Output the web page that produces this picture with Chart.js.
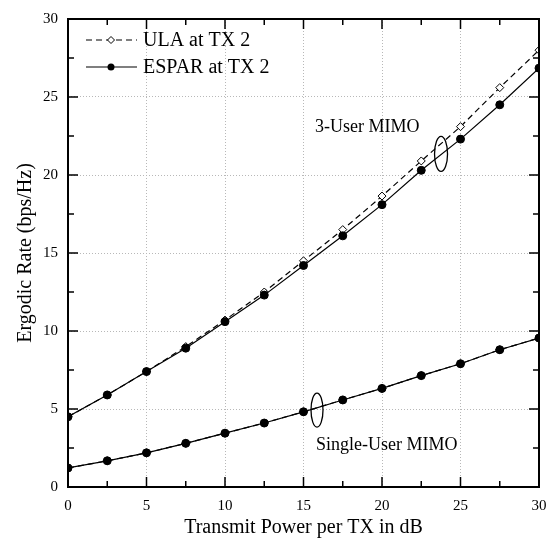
<!DOCTYPE html>
<html><head><meta charset="utf-8">
<script src="https://cdn.jsdelivr.net/npm/chart.js@4/dist/chart.umd.min.js"></script>
<style>html,body{margin:0;padding:0;background:#fff}#wrap{width:559px;height:542px}</style>
</head><body><div id="wrap"><canvas id="c" width="559" height="542"></canvas></div>
<script>
// ---- data ----
const txPower = [0, 2.5, 5, 7.5, 10, 12.5, 15, 17.5, 20, 22.5, 25, 27.5, 30];
const ula3User = [4.5, 5.9, 7.4, 9.0, 10.7, 12.5, 14.5, 16.5, 18.65, 20.9, 23.1, 25.6, 28.0];
const espar3User = [4.5, 5.9, 7.4, 8.9, 10.6, 12.3, 14.2, 16.1, 18.1, 20.3, 22.3, 24.5, 26.85];
const ulaSingleUser = [1.22, 1.68, 2.19, 2.8, 3.45, 4.1, 4.82, 5.58, 6.32, 7.14, 7.9, 8.8, 9.55];
const esparSingleUser = [1.22, 1.68, 2.19, 2.8, 3.45, 4.1, 4.82, 5.58, 6.32, 7.14, 7.9, 8.8, 9.55];
const xTickValues = [0, 2.5, 5, 7.5, 10, 12.5, 15, 17.5, 20, 22.5, 25, 27.5, 30];
const yTickValues = [0, 2.5, 5, 7.5, 10, 12.5, 15, 17.5, 20, 22.5, 25, 27.5, 30];
const legendLabels = ['ULA at TX 2', 'ESPAR at TX 2'];
const groupLabels = ['3-User MIMO', 'Single-User MIMO'];

const FONT = '"Liberation Serif", "Times New Roman", serif';
const pts = arr => txPower.map((x, i) => ({x: x, y: arr[i]}));
const isMajor = v => Math.abs(v % 5) < 1e-9;

const ulaStyle = {
  borderColor: '#000', borderWidth: 1.2, borderDash: [6, 4],
  pointStyle: 'rectRot', pointRadius: 4, pointBackgroundColor: '#fff',
  pointBorderColor: '#000', pointBorderWidth: 1, tension: 0, clip: 0, fill: false
};
const esparStyle = {
  borderColor: '#000', borderWidth: 1.2, borderDash: [],
  pointStyle: 'circle', pointRadius: 4, pointBackgroundColor: '#000',
  pointBorderColor: '#000', pointBorderWidth: 1, tension: 0, clip: 0, fill: false
};

const framePlugin = {
  id: 'frame',
  afterDraw(chart) {
    const ctx = chart.ctx, a = chart.chartArea;
    const xs = chart.scales.x, ys = chart.scales.y;
    ctx.save();
    ctx.strokeStyle = '#000';
    // inward ticks
    ctx.lineWidth = 1.5;
    xTickValues.forEach(v => {
      const p = xs.getPixelForValue(v), L = isMajor(v) ? 10 : 6;
      ctx.beginPath();
      ctx.moveTo(p, a.bottom); ctx.lineTo(p, a.bottom - L);
      ctx.moveTo(p, a.top); ctx.lineTo(p, a.top + L);
      ctx.stroke();
    });
    yTickValues.forEach(v => {
      const p = ys.getPixelForValue(v), L = isMajor(v) ? 10 : 6;
      ctx.beginPath();
      ctx.moveTo(a.left, p); ctx.lineTo(a.left + L, p);
      ctx.moveTo(a.right, p); ctx.lineTo(a.right - L, p);
      ctx.stroke();
    });
    // frame
    ctx.lineWidth = 2;
    ctx.strokeRect(a.left, a.top, a.right - a.left, a.bottom - a.top);

    // ellipses
    ctx.lineWidth = 1.3;
    [{x: 23.76, y: 21.35, rx: 6.5, ry: 17.5}, {x: 15.86, y: 4.93, rx: 6, ry: 17}].forEach(e => {
      ctx.beginPath();
      ctx.ellipse(xs.getPixelForValue(e.x), ys.getPixelForValue(e.y), e.rx, e.ry, 0, 0, Math.PI * 2);
      ctx.stroke();
    });

    // group labels
    ctx.fillStyle = '#000';
    ctx.font = '18px ' + FONT;
    ctx.textAlign = 'left';
    ctx.textBaseline = 'alphabetic';
    ctx.fillText(groupLabels[0], xs.getPixelForValue(15.73), ys.getPixelForValue(22.74));
    ctx.fillText(groupLabels[1], xs.getPixelForValue(15.8), ys.getPixelForValue(2.34));

    // legend
    const rows = [{y: 40, ds: chart.data.datasets[0]}, {y: 67, ds: chart.data.datasets[1]}];
    rows.forEach((r, i) => {
      const ds = r.ds;
      ctx.lineWidth = 1.2;
      ctx.strokeStyle = '#000';
      ctx.setLineDash(ds.borderDash || []);
      ctx.beginPath();
      ctx.moveTo(86, r.y); ctx.lineTo(137, r.y);
      ctx.stroke();
      ctx.setLineDash([]);
      if (ds.pointStyle === 'rectRot') {
        ctx.fillStyle = '#fff';
        ctx.beginPath();
        ctx.moveTo(111, r.y - 3.5); ctx.lineTo(114.5, r.y); ctx.lineTo(111, r.y + 3.5); ctx.lineTo(107.5, r.y); ctx.closePath();
        ctx.fill(); ctx.lineWidth = 1; ctx.stroke();
      } else {
        ctx.fillStyle = '#000';
        ctx.beginPath(); ctx.arc(111, r.y, 3.5, 0, Math.PI * 2); ctx.fill();
      }
      ctx.fillStyle = '#000';
      ctx.font = '20px ' + FONT;
      ctx.textBaseline = 'middle';
      ctx.fillText(legendLabels[i], 143, r.y + 1);
    });
    ctx.restore();
  }
};

new Chart(document.getElementById('c'), {
  type: 'line',
  data: {
    datasets: [
      Object.assign({label: legendLabels[0], data: pts(ula3User), order: 2}, ulaStyle),
      Object.assign({label: legendLabels[1], data: pts(espar3User), order: 1}, esparStyle),
      Object.assign({label: legendLabels[0] + ' (SU)', data: pts(ulaSingleUser), order: 4}, ulaStyle),
      Object.assign({label: legendLabels[1] + ' (SU)', data: pts(esparSingleUser), order: 3}, esparStyle)
    ]
  },
  options: {
    responsive: false,
    animation: false,
    devicePixelRatio: 1,
    layout: {padding: {top: 12, right: 20, left: 0, bottom: 0}},
    plugins: {legend: {display: false}, tooltip: {enabled: false}},
    scales: {
      x: {
        type: 'linear', min: 0, max: 30,
        afterBuildTicks: s => { s.ticks = xTickValues.map(v => ({value: v})); },
        afterFit: s => { s.height = 55; },
        ticks: {
          autoSkip: false, maxRotation: 0, padding: 10, color: '#000',
          font: {family: FONT, size: 15},
          callback: v => isMajor(v) ? String(v) : ''
        },
        grid: {
          drawTicks: false, lineWidth: 1,
          color: c => (c.tick && isMajor(c.tick.value) ? '#b8b8b8' : 'rgba(0,0,0,0)')
        },
        border: {display: false, dash: [1, 2]},
        title: {display: true, text: 'Transmit Power per TX in dB', color: '#000',
          font: {family: FONT, size: 20}, padding: {top: 0, bottom: 2}}
      },
      y: {
        type: 'linear', min: 0, max: 30,
        afterBuildTicks: s => { s.ticks = yTickValues.map(v => ({value: v})); },
        afterFit: s => { s.width = 68; },
        ticks: {
          autoSkip: false, padding: 10, color: '#000',
          font: {family: FONT, size: 15},
          callback: v => isMajor(v) ? String(v) : ''
        },
        grid: {
          drawTicks: false, lineWidth: 1,
          color: c => (c.tick && isMajor(c.tick.value) ? '#b8b8b8' : 'rgba(0,0,0,0)')
        },
        border: {display: false, dash: [1, 2]},
        title: {display: true, text: 'Ergodic Rate (bps/Hz)', color: '#000',
          font: {family: FONT, size: 20}, padding: {top: 14, bottom: 0}}
      }
    }
  },
  plugins: [framePlugin]
});
</script>
</body></html>
